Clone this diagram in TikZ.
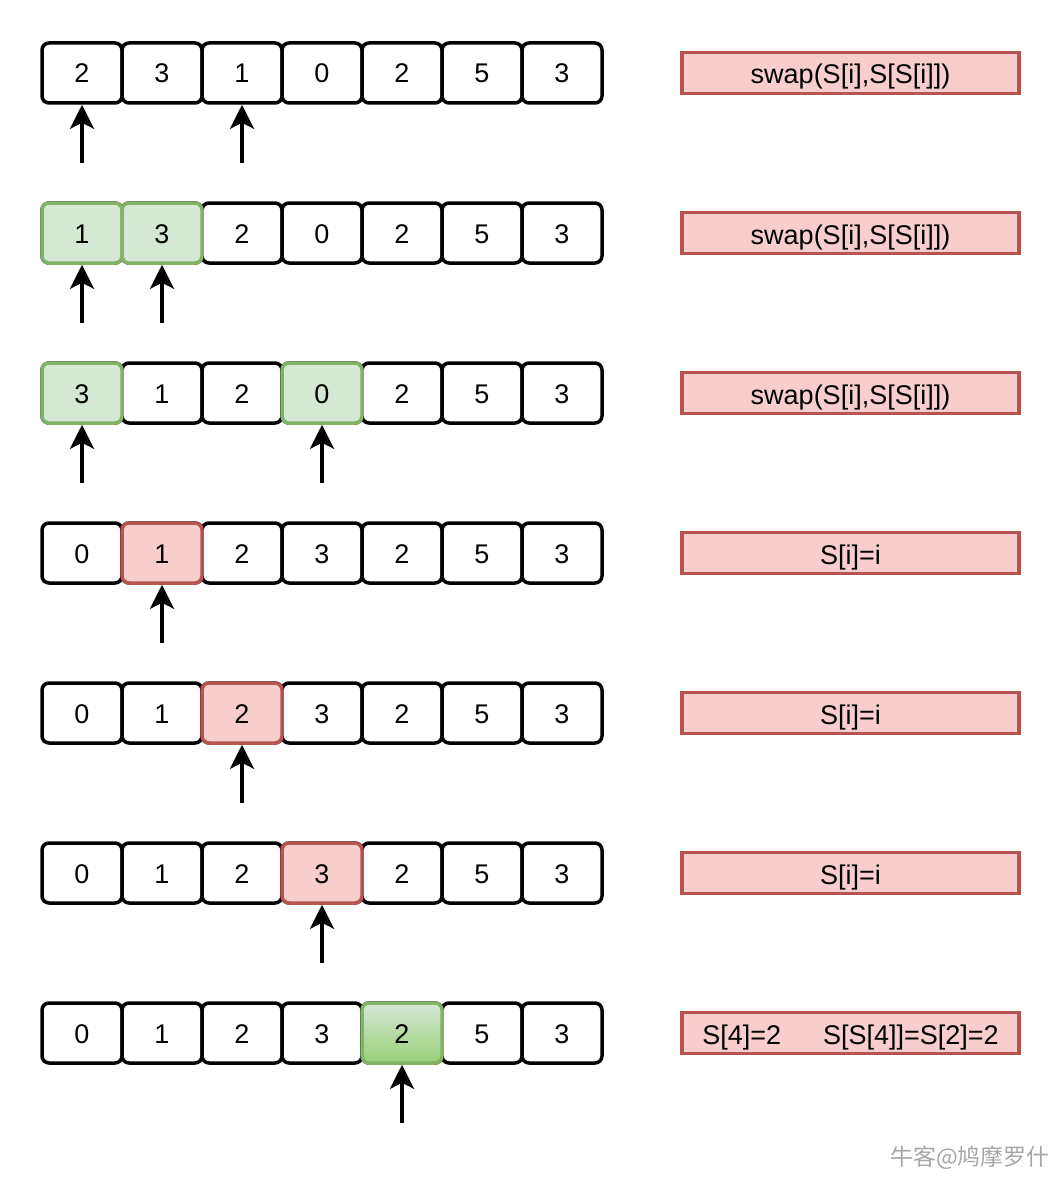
\documentclass[tikz,border=0pt]{standalone}
\usepackage{fontspec}
\setmainfont{Liberation Sans}
\newfontfamily\cjkfont{Noto Sans CJK SC}
\usetikzlibrary{arrows.meta}
\definecolor{gfill}{HTML}{D5E8D4}
\definecolor{gline}{HTML}{82B366}
\definecolor{gdark}{HTML}{97D077}
\definecolor{rfill}{HTML}{F8CECC}
\definecolor{rline}{HTML}{B85450}
\tikzset{
  cell/.style={draw=black, line width=3.5pt, rounded corners=7pt, minimum width=80pt, minimum height=60pt, inner sep=0pt, text height=20pt, text depth=0pt, font=\fontsize{27}{32}\selectfont, fill=white},
  gcell/.style={cell, draw=gline, fill=gfill},
  gradcell/.style={cell, draw=gline, top color=gfill, bottom color=gdark},
  rcell/.style={cell, draw=rline, fill=rfill},
  opbox/.style={draw=rline, fill=rfill, line width=3.5pt, minimum width=337pt, minimum height=41pt, inner sep=0pt, text height=24pt, text depth=2pt, font=\fontsize{27}{32}\selectfont},
  ptr/.style={line width=3.5pt, -{Stealth[length=24pt,width=24pt,inset=6pt]}},
}
\begin{document}
\begin{tikzpicture}[x=1pt,y=-1pt]
\useasboundingbox (0,0) rectangle (1060,1180);
\foreach \r/\vals in {1/{2,3,1,0,2,5,3},2/{1,3,2,0,2,5,3},3/{3,1,2,0,2,5,3},4/{0,1,2,3,2,5,3},5/{0,1,2,3,2,5,3},6/{0,1,2,3,2,5,3},7/{0,1,2,3,2,5,3}}{
  \foreach \v [count=\c] in \vals {
    \node[cell] (r\r c\c) at ({82+80*(\c-1)},{73+160*(\r-1)}) {\v};
  }
}
% highlighted cells
\node[gcell] (h2a) at (82,233) {1};
\node[gcell] (h2b) at (162,233) {3};
\node[gcell] (h3a) at (82,393) {3};
\node[gcell] (h3b) at (322,393) {0};
\node[rcell] (h4) at (162,553) {1};
\node[rcell] (h5) at (242,713) {2};
\node[rcell] (h6) at (322,873) {3};
\node[gradcell] (h7) at (402,1033) {2};
% pointer tails
\coordinate (p1a) at (82,163);
\coordinate (p1b) at (242,163);
\coordinate (p2a) at (82,323);
\coordinate (p2b) at (162,323);
\coordinate (p3a) at (82,483);
\coordinate (p3b) at (322,483);
\coordinate (p4) at (162,643);
\coordinate (p5) at (242,803);
\coordinate (p6) at (322,963);
\coordinate (p7) at (402,1123);
\draw[ptr] (p1a) -- (r1c1.south);
\draw[ptr] (p1b) -- (r1c3.south);
\draw[ptr] (p2a) -- (h2a.south);
\draw[ptr] (p2b) -- (h2b.south);
\draw[ptr] (p3a) -- (h3a.south);
\draw[ptr] (p3b) -- (h3b.south);
\draw[ptr] (p4) -- (h4.south);
\draw[ptr] (p5) -- (h5.south);
\draw[ptr] (p6) -- (h6.south);
\draw[ptr] (p7) -- (h7.south);
% operation boxes
\node[opbox] (o1) at (850.5,73) {swap(S[i],S[S[i]])};
\node[opbox] (o2) at (850.5,233) {swap(S[i],S[S[i]])};
\node[opbox] (o3) at (850.5,393) {swap(S[i],S[S[i]])};
\node[opbox] (o4) at (850.5,553) {S[i]=i};
\node[opbox] (o5) at (850.5,713) {S[i]=i};
\node[opbox] (o6) at (850.5,873) {S[i]=i};
\node[opbox] (o7) at (850.5,1033) {S[4]=2\hspace{42pt}S[S[4]]=S[2]=2};
% watermark
\node[anchor=east, text=gray!70, font=\cjkfont\fontsize{23}{27}\selectfont, inner sep=0pt] (wm) at (1050,1158) {牛客@鸠摩罗什};
\end{tikzpicture}
\end{document}
